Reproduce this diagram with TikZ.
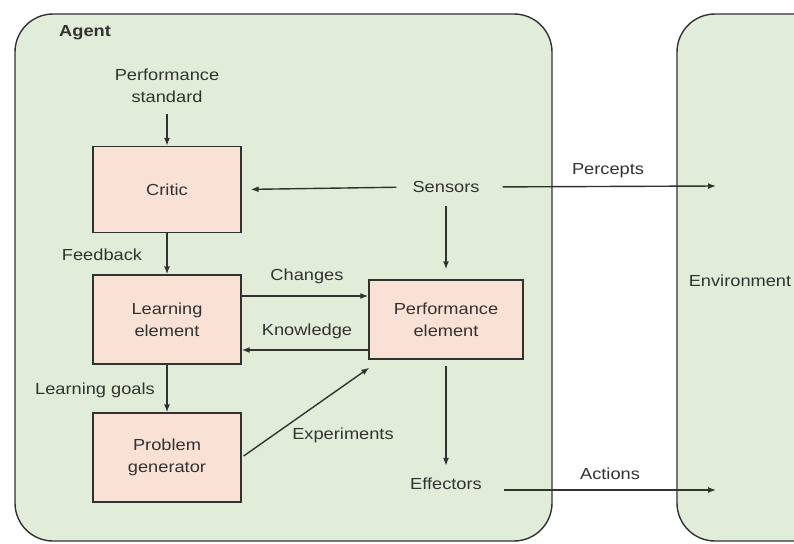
\documentclass[tikz,border=0pt]{standalone}
\usepackage{fontspec}
\setmainfont{Liberation Sans}[FakeStretch=1.14]
\usetikzlibrary{arrows.meta}
\definecolor{agentgreen}{RGB}{226,237,217}
\definecolor{boxpink}{RGB}{249,225,214}
\definecolor{ink}{RGB}{50,50,50}
\tikzset{
  panel/.style={draw=ink, line width=1.4pt, fill=agentgreen, rounded corners=38pt},
  elem/.style={draw=ink, line width=1.3pt, fill=boxpink, align=center, text=ink, inner sep=0pt},
  lbl/.style={text=ink, align=center, inner sep=0pt},
  arr/.style={draw=ink, line width=1.4pt, -{Latex[length=8pt,width=6pt]}},
}
\begin{document}
\begin{tikzpicture}[x=1pt,y=-1pt,font=\fontsize{16}{22}\selectfont]
\useasboundingbox (0,0) rectangle (794,543);
\clip (0,0) rectangle (794,543);
\fill[white] (0,0) rectangle (794,543);
% panels
\draw[panel] (15,14) rectangle (552,541);
\draw[panel] (677,14) rectangle (840,541);
\node[lbl, font=\fontsize{16}{18}\selectfont\bfseries, anchor=west] (agent) at (59,33) {Agent};
\node[lbl] (env) at (740,281) {Environment};
% element boxes
\node[elem, minimum width=148pt, minimum height=86pt] (critic) at (167,189.5) {Critic};
\node[elem, minimum width=148pt, minimum height=89pt] (learn) at (167,319.5) {Learning\\element};
\node[elem, minimum width=148pt, minimum height=89pt] (prob) at (167,457.5) {Problem\\generator};
\node[elem, minimum width=154pt, minimum height=79pt] (perf) at (446,319.5) {Performance\\element};
% text nodes
\node[lbl] (std) at (167,86) {Performance\\standard};
\node[lbl] (sensors) at (446,187) {Sensors};
\node[lbl] (effectors) at (446,484) {Effectors};
\coordinate (envP) at (716,186);
\coordinate (envA) at (716,490);
% labels
\node[lbl] (lfeed) at (102,255) {Feedback};
\node[lbl] (lgoals) at (95,390) {Learning goals};
\node[lbl] (lchg) at (307,276) {Changes};
\node[lbl] (lknow) at (307,331) {Knowledge};
\node[lbl] (lexp) at (343,435) {Experiments};
\node[lbl] (lperc) at (608,171) {Percepts};
\node[lbl] (lact) at (610,474) {Actions};
% connectors
\draw[arr, shorten <=11pt] (std.south) -- (critic.north);
\draw[arr] (critic.south) -- (learn.north);
\draw[arr] (learn.south) -- (prob.north);
\draw[arr, shorten <=16pt, shorten >=9pt] (sensors.west) -- (critic.east);
\draw[arr, shorten <=13pt, shorten >=10pt] (sensors.south) -- (perf.north);
\draw[arr, shorten <=6pt, shorten >=12pt] (perf.south) -- (effectors.north);
\draw[arr] ([yshift=23.5pt]learn.east) -- ([yshift=23.5pt]perf.west);
\draw[arr] ([yshift=-30.5pt]perf.west) -- ([yshift=-30.5pt]learn.east);
\draw[arr] ([xshift=2pt,yshift=1.5pt]prob.east) -- ([xshift=1pt,yshift=-8pt]perf.south west);
\draw[arr, shorten <=23pt] (sensors.east) -- (envP);
\draw[arr] (effectors.east |- envA) ++(22pt,0) -- (envA);
\end{tikzpicture}
\end{document}
